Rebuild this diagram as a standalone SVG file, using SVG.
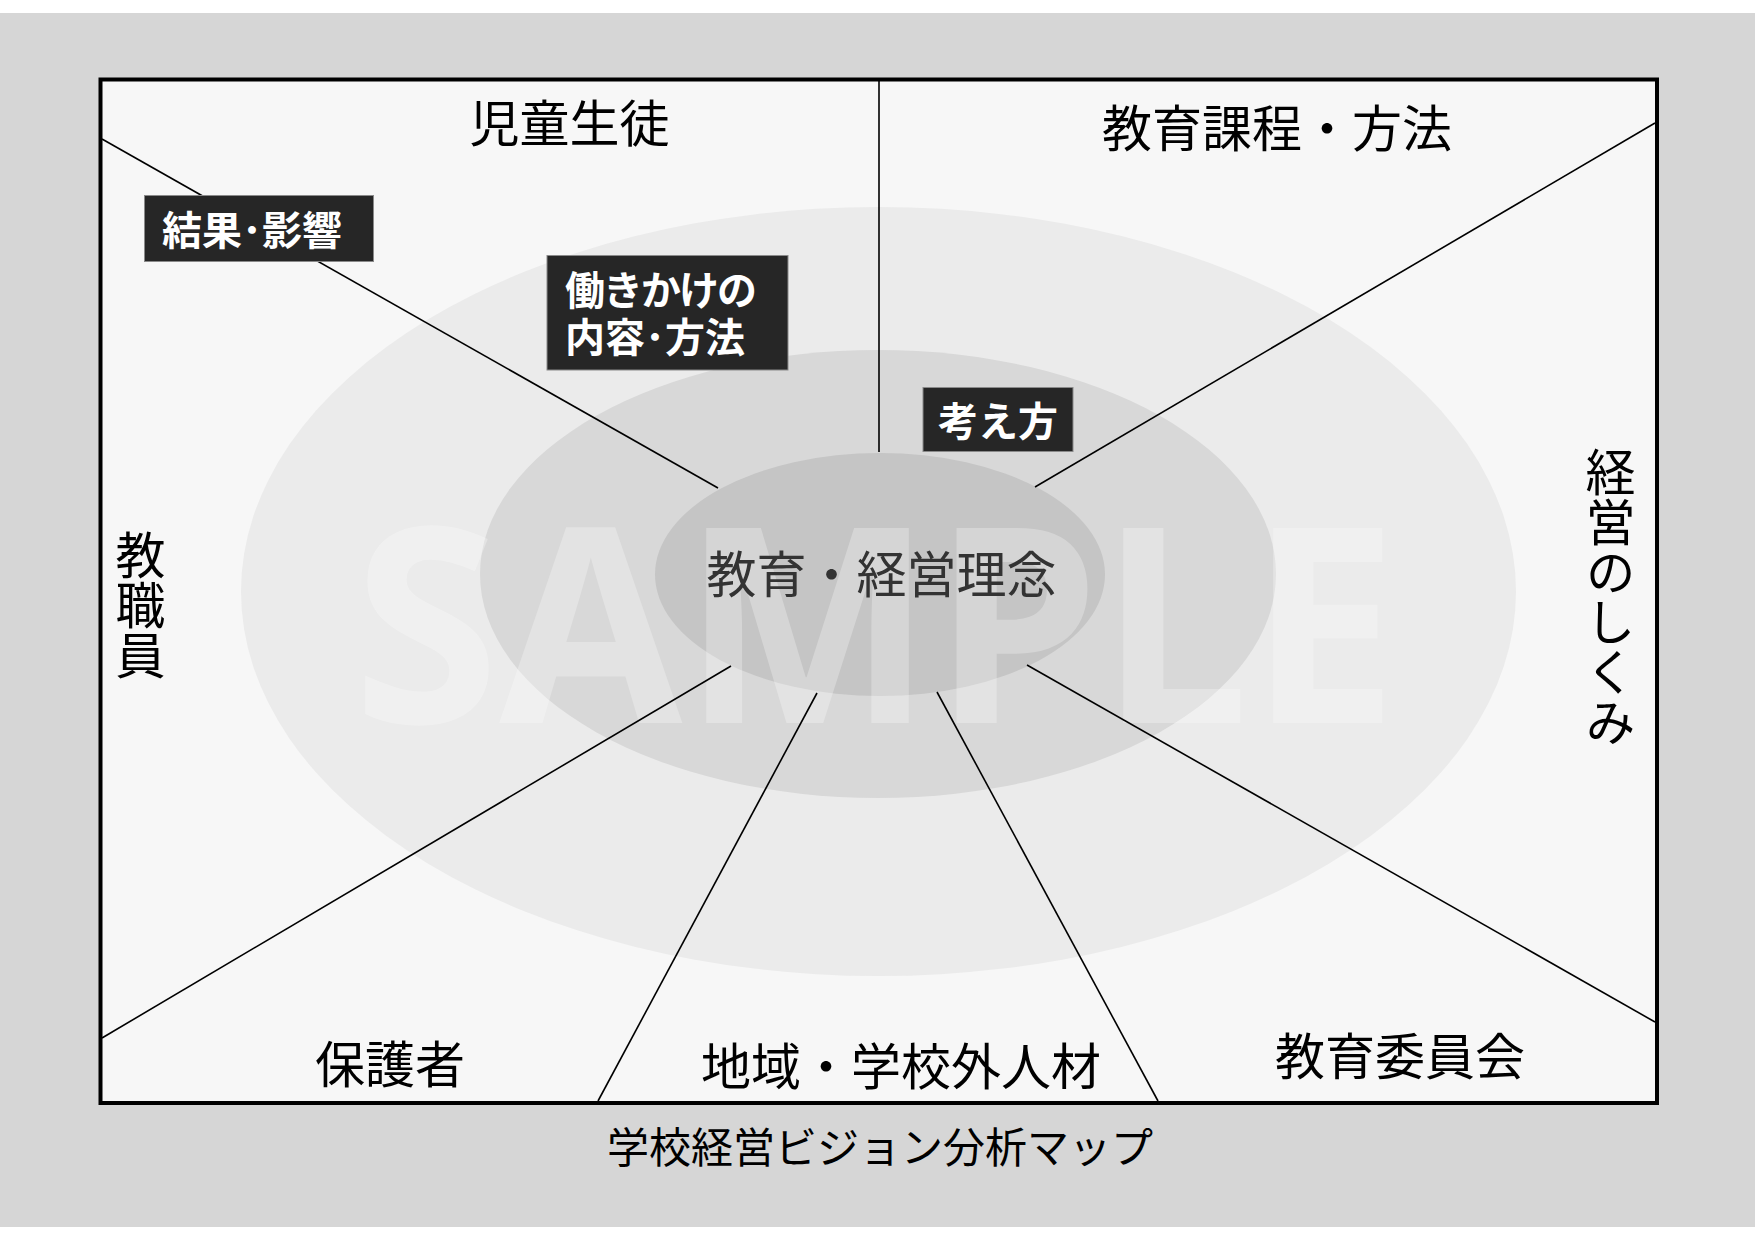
<svg xmlns="http://www.w3.org/2000/svg" width="1755" height="1241" viewBox="0 0 1755 1241">
<style>
.lbl{font-family:"Noto Sans CJK JP","Noto Sans",sans-serif;font-size:50px;fill:#000}
.vert{writing-mode:vertical-rl;text-orientation:upright}
.box{fill:#262626;stroke:#8a8a8a;stroke-width:1}
.boxt{font-family:"Noto Sans CJK JP","Noto Sans",sans-serif;font-size:40px;font-weight:bold;fill:#fff}
.conn line{stroke:#000;stroke-width:1.6}
</style>
<rect x="0" y="0" width="1755" height="1241" fill="#ffffff"/>
<rect x="0" y="13" width="1755" height="1214" fill="#d6d6d6"/>
<rect id="frame" x="100.5" y="79.5" width="1556.5" height="1023.5" fill="#f7f7f7" stroke="#000" stroke-width="4"/>
<g id="rings">
<ellipse cx="878.5" cy="591.5" rx="637.5" ry="384.5" fill="#ebebeb"/>
<ellipse cx="878" cy="574" rx="398" ry="224" fill="#d8d8d8"/>
<ellipse cx="880" cy="574.5" rx="225" ry="121.5" fill="#c5c5c5"/>
</g>
<text x="353" y="723" textLength="1045" lengthAdjust="spacingAndGlyphs" font-family="'Open Sans','Liberation Sans',sans-serif" font-weight="bold" font-size="273" fill="#fff" fill-opacity="0.28">SAMPLE</text>
<g id="connectors" class="conn">
<line x1="102" y1="139" x2="718" y2="488"/>
<line x1="879" y1="81" x2="879" y2="452"/>
<line x1="1035" y1="487" x2="1655" y2="123"/>
<line x1="1027" y1="665" x2="1655" y2="1022"/>
<line x1="937" y1="692" x2="1158" y2="1101"/>
<line x1="817" y1="693" x2="598" y2="1101"/>
<line x1="731" y1="666" x2="102" y2="1038"/>
</g>
<g id="node-center"><text class="lbl" x="881.5" y="593" text-anchor="middle" style="fill:#333">教育・経営理念</text></g>
<g id="node-students"><text class="lbl" x="569.5" y="142" text-anchor="middle">児童生徒</text></g>
<g id="node-curriculum"><text class="lbl" x="1277" y="146.5" text-anchor="middle">教育課程・方法</text></g>
<g id="node-staff"><text class="lbl vert" x="140.5" y="529.5">教職員</text></g>
<g id="node-system"><text class="lbl vert" x="1610.5" y="447">経営のしくみ</text></g>
<g id="node-parents"><text class="lbl" x="390" y="1082.5" text-anchor="middle">保護者</text></g>
<g id="node-community"><text class="lbl" x="901" y="1084.5" text-anchor="middle">地域・学校外人材</text></g>
<g id="node-board"><text class="lbl" x="1400" y="1075" text-anchor="middle">教育委員会</text></g>
<g id="tag-result"><rect class="box" x="144.5" y="195.5" width="229" height="66"/><text class="boxt" x="252" y="245" text-anchor="middle">結果･影響</text></g>
<g id="tag-action"><rect class="box" x="547" y="255.5" width="241" height="114.5"/><text class="boxt"><tspan x="565" y="305" letter-spacing="-2">働きかけの</tspan><tspan x="565" y="352">内容･方法</tspan></text></g>
<g id="tag-thinking"><rect class="box" x="923" y="387.5" width="150" height="64"/><text class="boxt" x="998" y="435.5" text-anchor="middle">考え方</text></g>
<text id="caption" x="880" y="1162.5" text-anchor="middle" font-family="'Noto Sans CJK JP','Noto Sans',sans-serif" font-size="42" fill="#000">学校経営ビジョン分析マップ</text>
</svg>
